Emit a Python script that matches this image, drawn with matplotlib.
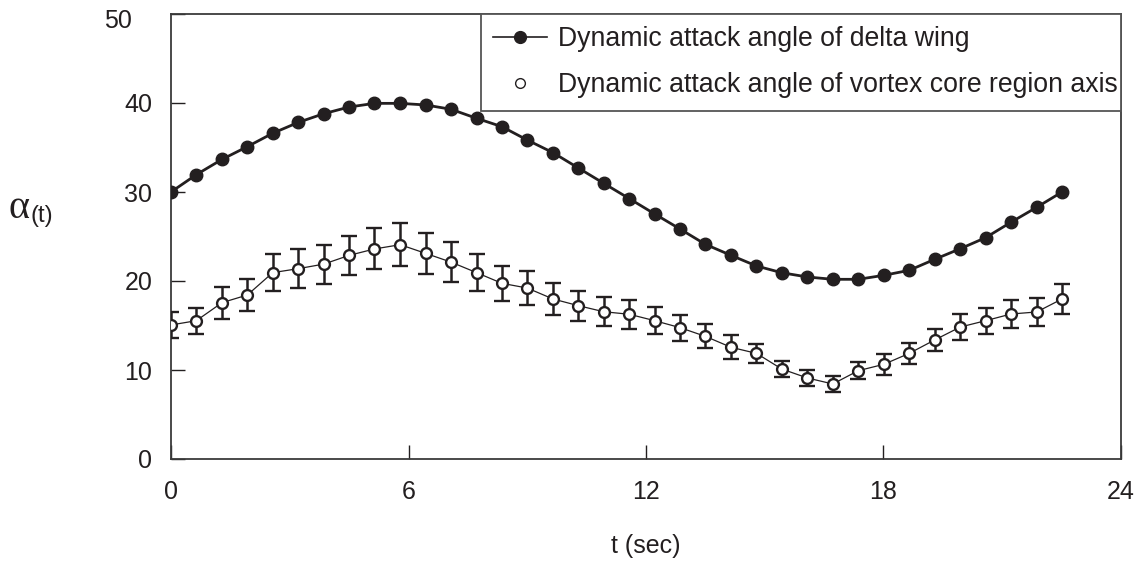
import matplotlib
matplotlib.use("Agg")
import matplotlib.pyplot as plt
from matplotlib.lines import Line2D
from matplotlib.transforms import ScaledTranslation

plt.rcParams['font.family'] = ['Liberation Sans', 'DejaVu Sans']

# ---- data ----
t = [0.00, 0.64, 1.29, 1.93, 2.57, 3.22, 3.86, 4.50, 5.14, 5.79, 6.43, 7.07,
     7.72, 8.36, 9.00, 9.65, 10.29, 10.93, 11.58, 12.22, 12.86, 13.50, 14.15, 14.79,
     15.43, 16.08, 16.72, 17.36, 18.01, 18.65, 19.29, 19.94, 20.58, 21.22, 21.87, 22.51]

wing = [30.0, 31.95, 33.67, 35.1, 36.6, 37.83, 38.8, 39.55, 39.96, 39.96, 39.78, 39.3,
        38.28, 37.34, 35.84, 34.42, 32.7, 30.98, 29.25, 27.53, 25.84, 24.12, 22.88, 21.69,
        20.93, 20.45, 20.19, 20.19, 20.64, 21.2, 22.43, 23.63, 24.87, 26.6, 28.28, 30.0]

vortex = [15.06, 15.54, 17.57, 18.43, 20.94, 21.39, 21.9, 22.88, 23.6, 24.08, 23.11, 22.13,
          20.94, 19.74, 19.21, 17.98, 17.23, 16.55, 16.26, 15.54, 14.76, 13.78, 12.55, 11.87,
          10.11, 9.1, 8.43, 9.92, 10.64, 11.87, 13.37, 14.83, 15.54, 16.29, 16.52, 17.98]

vortex_err = [1.5, 1.45, 1.8, 1.8, 2.05, 2.15, 2.2, 2.2, 2.3, 2.4, 2.3, 2.2,
              2.1, 1.95, 1.95, 1.75, 1.7, 1.6, 1.6, 1.5, 1.45, 1.35, 1.35, 1.1,
              0.95, 0.85, 0.85, 0.95, 1.15, 1.2, 1.2, 1.45, 1.45, 1.6, 1.6, 1.7]

xticks = [0, 6, 12, 18, 24]
yticks = [0, 10, 20, 30, 40, 50]
label_wing = "Dynamic attack angle of delta wing"
label_vortex = "Dynamic attack angle of vortex core region axis"

ink = '#231f20'

fig = plt.figure(figsize=(11.38, 5.62), dpi=100)
ax = fig.add_axes([171/1138, 1 - 459/562, 950/1138, 445/562])

ax.plot(t, wing, color=ink, lw=2.0, marker='o', ms=9, mfc=ink, mec=ink, zorder=3)
ax.errorbar(t, vortex, yerr=vortex_err, color=ink, lw=0.9, marker='o', ms=7.8,
            mfc='white', mec=ink, mew=1.7, ecolor=ink, elinewidth=1.8,
            capsize=5.5, capthick=1.8, zorder=3)

ax.set_xlim(0, 24)
ax.set_ylim(0, 50)
ax.set_xticks(xticks)
ax.set_yticks(yticks)
ax.tick_params(direction='in', length=10, width=1.0, color=ink, labelsize=18,
               labelcolor=ink, top=False, right=False)
ax.tick_params(axis='x', pad=15)
ax.tick_params(axis='y', pad=13.5)
for s in ax.spines.values():
    s.set_linewidth(1.3)
    s.set_color('#3a3a3a')

# "50" label sits a bit further left in the reference
lab50 = ax.get_yticklabels()[-1]
lab50.set_transform(lab50.get_transform() + ScaledTranslation(-0.2, -0.04, fig.dpi_scale_trans))

ax.set_xlabel("t (sec)", fontsize=18, color=ink, labelpad=22)

fig.text(8/1138, 1 - 218/562, "α", fontsize=29, family=['Liberation Serif', 'DejaVu Serif'],
         color=ink, va='baseline', ha='left')
fig.text(31/1138, 1 - 222/562, "(t)", fontsize=17, color=ink, va='baseline', ha='left')

handles = [Line2D([], [], color=ink, lw=1.2, marker='o', ms=8.5, mfc=ink, mec=ink),
           Line2D([], [], color=ink, lw=0, marker='o', ms=7, mfc='white', mec=ink, mew=1.0)]
leg = ax.legend(handles, [label_wing, label_vortex], loc='upper left',
                bbox_to_anchor=(310/950, 1.0, 640/950, 0.0), mode='expand',
                borderaxespad=0, fontsize=19.2, frameon=True, fancybox=False,
                framealpha=1, edgecolor='#555555', handlelength=2.0,
                handletextpad=0.42, borderpad=0.46, labelspacing=0.75)
leg.get_frame().set_linewidth(1.3)
for txt in leg.get_texts():
    txt.set_color(ink)

fig.savefig("out.png", dpi=100)
